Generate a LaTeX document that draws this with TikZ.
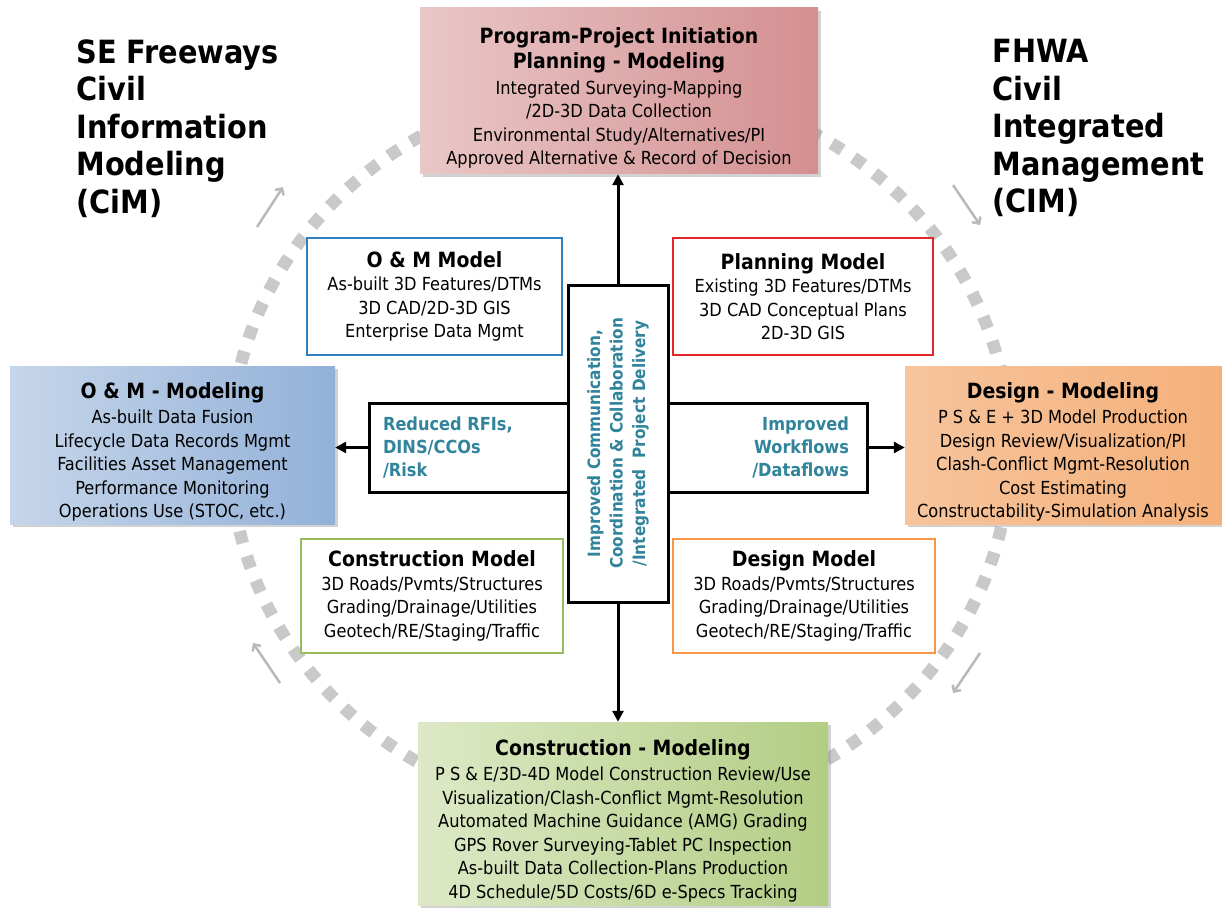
\documentclass[tikz,border=0pt]{standalone}
\usepackage{fontspec}
\setmainfont{DejaVu Sans Condensed}[BoldFont={DejaVu Sans Condensed Bold}]
\usetikzlibrary{positioning,shadows,arrows.meta}

\definecolor{flowteal}{HTML}{31849B}
\definecolor{omblue}{HTML}{2F7FC1}
\definecolor{plred}{HTML}{E3262A}
\definecolor{cngreen}{HTML}{9BBB59}
\definecolor{dsorange}{HTML}{F79646}
\definecolor{pkL}{HTML}{E9C7C7}
\definecolor{pkM}{HTML}{F5E6E6}
\definecolor{pkD}{HTML}{D48F90}
\definecolor{blL}{HTML}{C6D6EA}
\definecolor{blM}{HTML}{E8EEF6}
\definecolor{blD}{HTML}{93B1D8}
\definecolor{orL}{HTML}{F7C49C}
\definecolor{orM}{HTML}{FDEADB}
\definecolor{orD}{HTML}{F4B07A}
\definecolor{gnL}{HTML}{DDE9C6}
\definecolor{gnM}{HTML}{EEF4E2}
\definecolor{gnD}{HTML}{B3CD85}

\newcommand{\boxtitle}[1]{{\bfseries\fontsize{21}{24}\selectfont #1}}

\begin{document}
\begin{tikzpicture}
  [x=1pt,y=-1pt,
   phase/.style={inner sep=0pt,
                 drop shadow={opacity=0.35,shadow xshift=3pt,shadow yshift=-3pt}},
   phasetext/.style={align=center,inner sep=0pt,font=\fontsize{18}{23.5}\selectfont},
   model/.style={draw,line width=2.2pt,fill=white,align=center,inner sep=0pt,
                 font=\fontsize{18}{23.5}\selectfont},
   hubbox/.style={draw,line width=3pt,fill=white},
   flow/.style={text=flowteal,font=\bfseries\fontsize{18}{23}\selectfont},
   bigtitle/.style={align=left,anchor=north west,font=\bfseries\fontsize{32}{37.5}\selectfont},
   link/.style={line width=3pt,-{Triangle[length=11pt,width=11pt]}},
   turn/.style={gray!55,line width=2.5pt,-{Straight Barb[length=5pt,width=10pt]}}]

  \fill[white] (0,0) rectangle (1222,909);
  \useasboundingbox (0,0) rectangle (1222,909);

  % the lifecycle ring
  \draw[gray!42,line width=12.5pt,dash pattern=on 12.5pt off 13.5pt]
    (620,450) ellipse [x radius=390,y radius=365];
  \coordinate (nwA) at (257,227); \coordinate (nwB) at (283,187);
  \coordinate (neA) at (953,185); \coordinate (neB) at (980,225);
  \coordinate (seA) at (980,653); \coordinate (seB) at (953,693);
  \coordinate (swA) at (280,683); \coordinate (swB) at (253,643);
  \draw[turn] (nwA) -- (nwB);
  \draw[turn] (neA) -- (neB);
  \draw[turn] (seA) -- (seB);
  \draw[turn] (swA) -- (swB);

  % titles
  \node[bigtitle] (cimL) at (73,36) {SE Freeways\\Civil\\Information\\Modeling\\(CiM)};
  \node[bigtitle] (cimR) at (989,36) {FHWA\\Civil\\Integrated\\Management\\(CIM)};

  % phases
  \node[phase,minimum width=398,minimum height=166,
        left color=pkL,middle color=pkM,right color=pkD] (init) at (619,91) {};
  \node[phasetext] (initxt) at ([yshift=-7pt]init.center)
    {\boxtitle{Program-Project Initiation}\\[2pt]
     \boxtitle{Planning - Modeling}\\[2pt]
     Integrated Surveying-Mapping\\/2D-3D Data Collection\\
     Environmental Study/Alternatives/PI\\Approved Alternative \& Record of Decision};
  \node[phase,minimum width=325,minimum height=158,
        left color=blL,middle color=blM,right color=blD] (om) at (172.5,445) {};
  \node[phasetext] (omtxt) at ([yshift=-7pt]om.center)
    {\boxtitle{O \& M - Modeling}\\[2pt]
     As-built Data Fusion\\Lifecycle Data Records Mgmt\\Facilities Asset Management\\
     Performance Monitoring\\Operations Use (STOC, etc.)};
  \node[phase,minimum width=322,minimum height=158,
        left color=orL,middle color=orM,right color=orD] (des) at (1066,445) {};
  \node[phasetext] (destxt) at ([yshift=-7pt,xshift=-3pt]des.center)
    {\boxtitle{Design - Modeling}\\[2pt]
     P S \& E + 3D Model Production\\Design Review/Visualization/PI\\
     Clash-Conflict Mgmt-Resolution\\Cost Estimating\\Constructability-Simulation Analysis};
  \node[phase,minimum width=410,minimum height=183,
        left color=gnL,middle color=gnM,right color=gnD] (con) at (623,813.5) {};
  \node[phasetext] (contxt) at ([yshift=-7pt]con.center)
    {\boxtitle{Construction - Modeling}\\[2pt]
     P S \& E/3D-4D Model Construction Review/Use\\
     Visualization/Clash-Conflict Mgmt-Resolution\\
     Automated Machine Guidance (AMG) Grading\\
     GPS Rover Surveying-Tablet PC Inspection\\
     As-built Data Collection-Plans Production\\
     4D Schedule/5D Costs/6D e-Specs Tracking};

  % models
  \node[model,draw=omblue,minimum width=255,minimum height=117] (omm) at (434.5,296.5)
    {\boxtitle{O \& M Model}\\As-built 3D Features/DTMs\\3D CAD/2D-3D GIS\\Enterprise Data Mgmt};
  \node[model,draw=plred,minimum width=260,minimum height=117] (plm) at (803,296.5)
    {\boxtitle{Planning Model}\\Existing 3D Features/DTMs\\3D CAD Conceptual Plans\\2D-3D GIS};
  \node[model,draw=cngreen,minimum width=262,minimum height=114] (cnm) at (432,596)
    {\boxtitle{Construction Model}\\3D Roads/Pvmts/Structures\\Grading/Drainage/Utilities\\Geotech/RE/Staging/Traffic};
  \node[model,draw=dsorange,minimum width=262,minimum height=114] (dsm) at (804,596)
    {\boxtitle{Design Model}\\3D Roads/Pvmts/Structures\\Grading/Drainage/Utilities\\Geotech/RE/Staging/Traffic};

  % the cross in the middle
  \node[hubbox,minimum width=498,minimum height=89] (bar) at (618,447.5) {};
  \node[hubbox,minimum width=100,minimum height=317] (hub) at (618,443.5) {};
  \node[flow,rotate=90,align=center,font=\bfseries\fontsize{17}{22.5}\selectfont] (hubtxt) at (hub)
    {Improved Communication,\\Coordination \& Collaboration\\/Integrated\ \ Project Delivery};
  \node[flow,align=left,right=12pt of bar.west] (rfi) {Reduced RFIs,\\DINS/CCOs\\/Risk};
  \node[flow,align=right,left=16pt of bar.east] (wf) {Improved\\Workflows\\/Dataflows};

  \draw[link] (hub.north) -- (hub.north |- init.south);
  \draw[link] (hub.south) -- (hub.south |- con.north);
  \draw[link] (bar.west) -- (bar.west -| om.east);
  \draw[link] (bar.east) -- (bar.east -| des.west);
\end{tikzpicture}
\end{document}
